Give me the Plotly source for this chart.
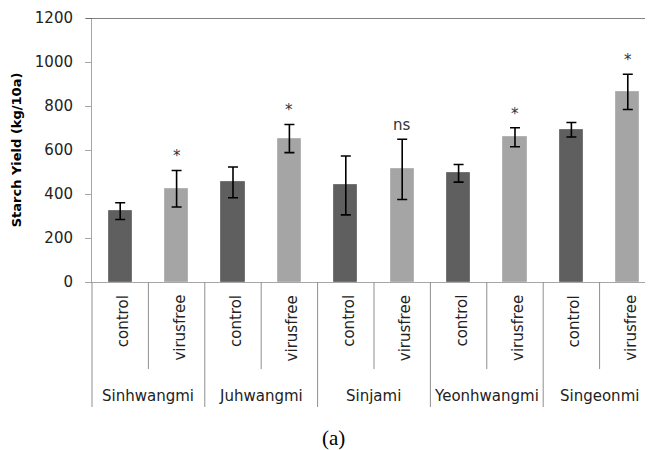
import plotly.graph_objects as go

# ---------------- data ----------------
varieties = ["Sinhwangmi", "Juhwangmi", "Sinjami", "Yeonhwangmi", "Singeonmi"]
treatments = ["control", "virusfree"]
control_yield = [322, 453, 439, 494, 692]
control_err = [38, 70, 134, 40, 33]
virusfree_yield = [424, 652, 512, 658, 864]
virusfree_err = [83, 64, 137, 43, 80]
significance = ["*", "*", "ns", "*", "*"]
y_ticks = [0, 200, 400, 600, 800, 1000, 1200]

# ---------------- geometry helpers ----------------
OFF = 8  # default page body margin
PAGE_W, PAGE_H = 653, 450
W, H = PAGE_W - OFF, PAGE_H - OFF
PLOT_L, PLOT_T, PLOT_B = 92, 18, 282          # page pixels
ML, MT = PLOT_L - OFF, PLOT_T - OFF
MB = H - (PLOT_B - OFF)
plot_h = PLOT_B - PLOT_T
XMIN, XMAX = -0.5, 9.447

def px_to_paper_y(p):
    return (PLOT_B - p) / plot_h

def x_to_paper(x):
    return (x - XMIN) / (XMAX - XMIN)

n = len(varieties)
ctrl_x = [2 * i for i in range(n)]
vf_x = [2 * i + 1 for i in range(n)]

FONT = "DejaVu Sans"
AXIS_GRAY = "#a6a6a6"
SEP_GRAY = "#8f8f8f"

fig = go.Figure()
fig.add_trace(go.Bar(
    x=ctrl_x, y=control_yield, width=0.41,
    marker=dict(color="#5f5f5f", line=dict(color="#747474", width=1)),
    error_y=dict(type="data", array=control_err, visible=True,
                 color="black", thickness=1.6, width=5),
    name="control", showlegend=False,
))
fig.add_trace(go.Bar(
    x=vf_x, y=virusfree_yield, width=0.41,
    marker=dict(color="#a5a5a5", line=dict(color="#b4b4b4", width=1)),
    error_y=dict(type="data", array=virusfree_err, visible=True,
                 color="black", thickness=1.6, width=5),
    name="virusfree", showlegend=False,
))

annotations = []
shapes = []

# significance labels above virusfree bars
for i in range(n):
    annotations.append(dict(
        x=vf_x[i], y=virusfree_yield[i] + virusfree_err[i], xref="x", yref="y",
        text=significance[i], showarrow=False, yanchor="bottom", yshift=3,
        font=dict(family=FONT, size=15, color="#333333"),
    ))

# inner category labels (rotated), group labels, separators
for i in range(n):
    for j, t in enumerate(treatments):
        annotations.append(dict(
            x=2 * i + j, y=px_to_paper_y(293), xref="x", yref="paper",
            text=t, showarrow=False, textangle=-90, yanchor="top", xanchor="center",
            xshift=3, font=dict(family=FONT, size=15, color="#222222"),
        ))
    annotations.append(dict(
        x=2 * i + 0.5, y=px_to_paper_y(396), xref="x", yref="paper",
        text=varieties[i], showarrow=False, yanchor="middle", xanchor="center",
        font=dict(family=FONT, size=15, color="#222222"),
    ))
    xs = x_to_paper(2 * i + 0.5)
    shapes.append(dict(type="line", xref="paper", yref="paper",
                       x0=xs, x1=xs, y0=px_to_paper_y(282), y1=px_to_paper_y(369),
                       line=dict(color=SEP_GRAY, width=1)))
    xg = x_to_paper(2 * i - 0.5)
    shapes.append(dict(type="line", xref="paper", yref="paper",
                       x0=xg, x1=xg, y0=px_to_paper_y(282), y1=px_to_paper_y(407),
                       line=dict(color=SEP_GRAY, width=1)))

# top line at 1200 (dark), extended as a tick
shapes.append(dict(type="line", xref="paper", yref="y",
                   x0=-6 / (W - ML), x1=1, y0=y_ticks[-1], y1=y_ticks[-1],
                   line=dict(color="#595959", width=1.5)))

# caption
annotations.append(dict(
    x=(333 - PLOT_L) / (W - ML), y=px_to_paper_y(438), xref="paper", yref="paper",
    text="(a)", showarrow=False, xanchor="center", yanchor="middle",
    font=dict(family="Liberation Serif", size=21, color="black"),
))

fig.update_layout(
    width=W, height=H,
    margin=dict(l=ML, r=0, t=MT, b=MB, pad=0),
    paper_bgcolor="white", plot_bgcolor="white",
    bargap=0, barmode="overlay",
    showlegend=False,
    annotations=annotations,
    shapes=shapes,
    xaxis=dict(range=[XMIN, XMAX], showticklabels=False, showgrid=False,
               zeroline=False, showline=True, linecolor=AXIS_GRAY, linewidth=1,
               ticks="", fixedrange=True),
    yaxis=dict(range=[0, 1200], tickvals=y_ticks, showgrid=False, zeroline=False,
               showline=True, linecolor=AXIS_GRAY, linewidth=1,
               ticks="outside", ticklen=6, tickcolor=AXIS_GRAY, tickwidth=1,
               ticklabelstandoff=9,
               tickfont=dict(family=FONT, size=15, color="#222222"),
               title=dict(text="<b>Starch Yield (kg/10a)</b>", standoff=10,
                          font=dict(family=FONT, size=13, color="black"))),
)

fig.write_html("out.html")
